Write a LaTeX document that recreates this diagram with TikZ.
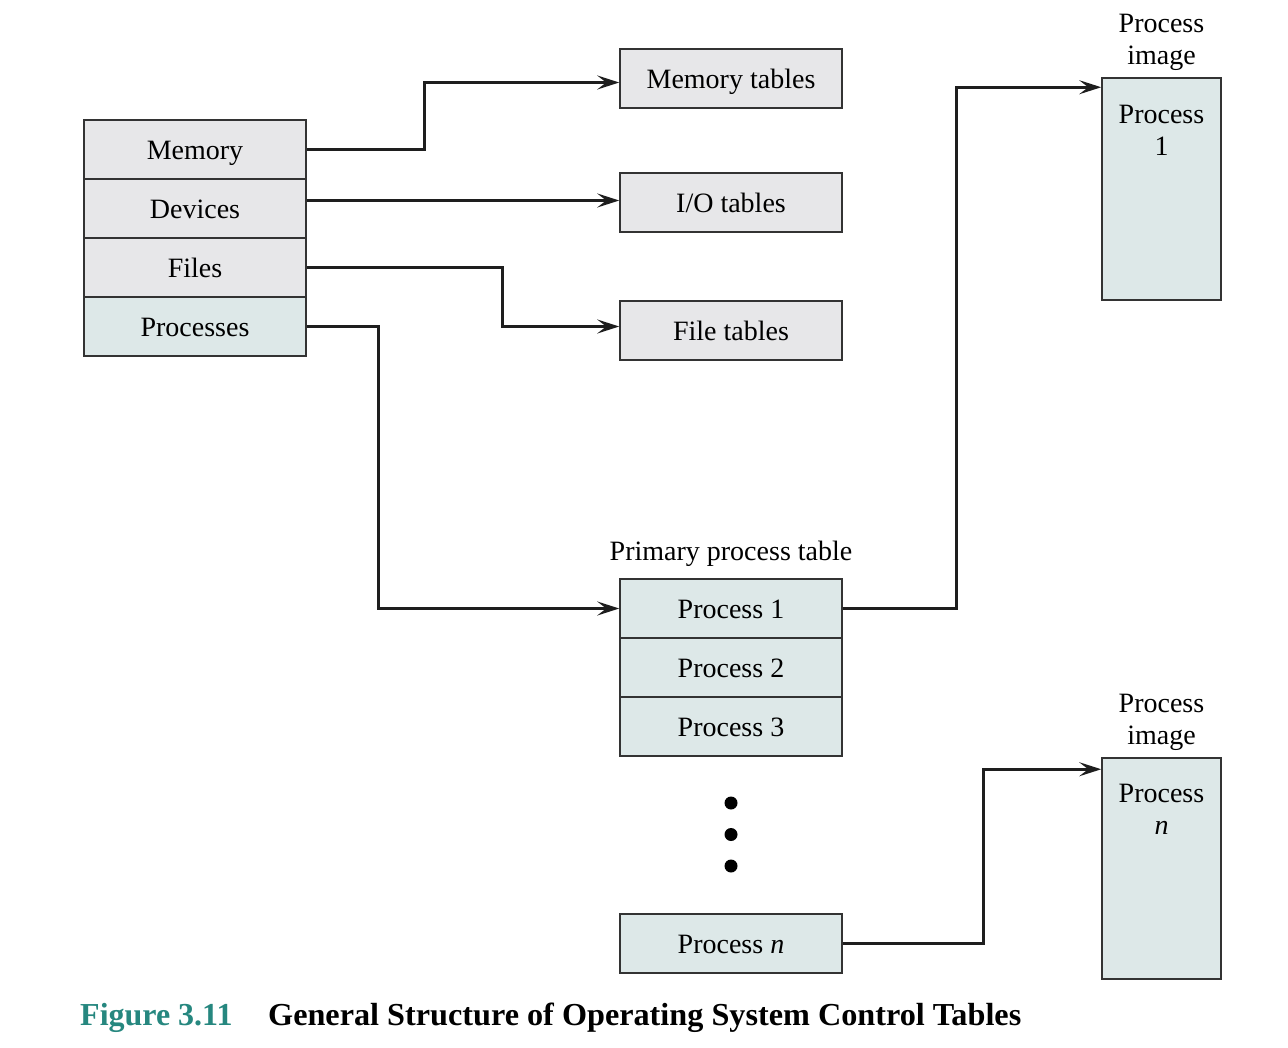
\documentclass[tikz,border=0pt]{standalone}
\usepackage{fontspec}
\setmainfont{Liberation Serif}
\usetikzlibrary{arrows.meta,calc}
\definecolor{grayfill}{HTML}{E7E7E9}
\definecolor{bluefill}{HTML}{DDE8E8}
\definecolor{boxline}{HTML}{333333}
\definecolor{linecol}{HTML}{1E1E1E}
\definecolor{figteal}{HTML}{26877F}
\begin{document}
\begin{tikzpicture}[x=1pt,y=-1pt,
  txt/.style={font=\fontsize{28pt}{32pt}\selectfont, text=black, inner sep=0pt},
  box/.style={txt, draw=boxline, line width=1.5pt, minimum width=222pt, minimum height=59pt, text height=20pt, text depth=0pt},
  graybox/.style={box, fill=grayfill},
  bluebox/.style={box, fill=bluefill},
  imgbox/.style={draw=boxline, line width=1.5pt, fill=bluefill, minimum width=119pt, inner sep=0pt},
  conn/.style={draw=linecol, line width=2.9pt, -{Stealth[length=22pt,width=14pt,inset=9pt]}},
  dot/.style={circle, fill=black, minimum size=13pt, inner sep=0pt},
  capt/.style={font=\fontsize{32pt}{36pt}\selectfont\bfseries, inner sep=0pt, anchor=base west}
]
\useasboundingbox (0,0) rectangle (1288,1048);

% left stack
\node[graybox] (mem) at (195,149.5) {Memory};
\node[graybox] (dev) at (195,208.5) {Devices};
\node[graybox] (fil) at (195,267.5) {Files};
\node[bluebox] (prc) at (195,326.5) {Processes};

% tables
\node[graybox] (memtab) at (731,78.5) {Memory tables};
\node[graybox] (iotab) at (731,202.5) {I/O tables};
\node[graybox] (filetab) at (731,330.5) {File tables};

% primary process table
\node[txt] (ppt) at (731,554) {Primary process table};
\node[bluebox] (p1) at (731,608.5) {Process 1};
\node[bluebox] (p2) at (731,667.5) {Process 2};
\node[bluebox] (p3) at (731,726.5) {Process 3};
\node[dot] (d1) at (731,803) {};
\node[dot] (d2) at (731,834.5) {};
\node[dot] (d3) at (731,866) {};
\node[bluebox] (pn) at (731,943.5) {Process \textit{n}};

% process images
\node[imgbox, minimum height=222pt] (img1) at (1161.5,189) {};
\node[txt, align=center] (img1lab) at (1161.5,42) {Process\\image};
\node[txt, align=center] (img1in) at (1161.5,130) {Process\\1};
\node[imgbox, minimum height=221pt] (imgn) at (1161.5,868.5) {};
\node[txt, align=center] (imgnlab) at (1161.5,722) {Process\\image};
\node[txt, align=center] (imgnin) at (1161.5,809) {Process\\\textit{n}};

% connectors
\coordinate (devout) at ([yshift=8pt]dev.east);
\draw[conn] (mem.east) -- ++(118,0) |- ([yshift=-4pt]memtab.west);
\draw[conn] (devout) -- (iotab.west |- devout);
\draw[conn] (fil.east) -- ++(196,0) |- ([yshift=4pt]filetab.west);
\draw[conn] (prc.east) -- ++(72,0) |- (p1.west);
\draw[conn] (p1.east) -- ++(114,0) |- ([yshift=-10pt]img1.north west);
\draw[conn] (pn.east) -- ++(141,0) |- ([yshift=-12pt]imgn.north west);

% caption
\node[capt, text=figteal] (fig) at (80,1025) {Figure 3.11};
\node[capt, text=black] (title) at (268,1025) {\scalebox{1.007}[1]{General Structure of Operating System Control Tables}};
\end{tikzpicture}
\end{document}
